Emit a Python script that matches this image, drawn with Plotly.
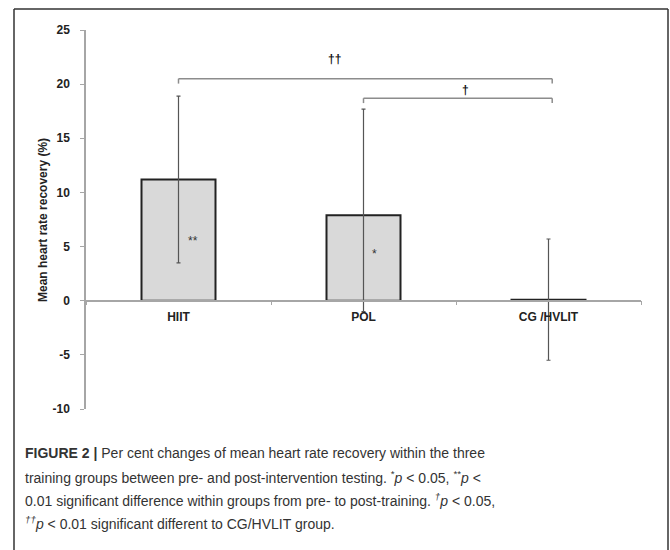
import plotly.graph_objects as go

# ---- data ----
groups = ["HIIT", "POL", "CG /HVLIT"]
mean_change = [11.2, 7.9, 0.1]
err_plus = [7.7, 9.8, 5.6]
err_minus = [7.7, 8.9, 5.6]
y_ticks = [-10, -5, 0, 5, 10, 15, 20, 25]
y_tick_text = ["-10", "-5", "0", "5", "10", "15", "20", "25"]

W, H = 670, 550
L, R, T, B = 86, 29, 30, 141
Y0, Y1 = -10, 25

def px_y(py):
    return (H - B - py) / (H - T - B)

def px_x(px):
    return (px - L) / (W - L - R)

AX = "#a6a6a6"
BOLD12 = dict(family="Liberation Sans, Arial, sans-serif", size=12, color="#222", weight="bold")

fig = go.Figure()
fig.add_trace(go.Bar(
    x=groups, y=mean_change, width=0.4,
    marker=dict(color="#d9d9d9", line=dict(color="#222", width=2)),
    error_y=dict(type="data", symmetric=False, array=err_plus, arrayminus=err_minus,
                 color="#555", thickness=1.2, width=2),
    showlegend=False, hoverinfo="skip",
))

# significance markers inside bars
fig.add_annotation(x=0.08, y=5.55, text="**", showarrow=False,
                   font=dict(family="Liberation Sans, Arial", size=12, color="#333"))
fig.add_annotation(x=1.06, y=4.3, text="*", showarrow=False,
                   font=dict(family="Liberation Sans, Arial", size=12, color="#333"))

# brackets
BR = "#8c8c8c"
def bracket(x0, x1, y, drop=0.45):
    fig.add_shape(type="line", x0=x0, x1=x1, y0=y, y1=y, line=dict(color=BR, width=1.5))
    fig.add_shape(type="line", x0=x0, x1=x0, y0=y, y1=y - drop, line=dict(color=BR, width=1.5))
    fig.add_shape(type="line", x0=x1, x1=x1, y0=y, y1=y - drop, line=dict(color=BR, width=1.5))

bracket(0.0, 2.02, 20.5)
bracket(1.0, 2.02, 18.7)
fig.add_annotation(x=0.845, y=22.3, text="††", showarrow=False,
                   font=dict(family="Liberation Sans, Arial", size=12, color="#111", weight="bold"))
fig.add_annotation(x=1.55, y=19.45, text="†", showarrow=False,
                   font=dict(family="Liberation Sans, Arial", size=12, color="#111", weight="bold"))

# y axis title
fig.add_annotation(xref="paper", yref="paper", x=px_x(43), y=px_y(220),
                   xanchor="center", yanchor="middle",
                   text="Mean heart rate recovery (%)", textangle=-90, showarrow=False,
                   font=dict(family="Liberation Sans, Arial", size=12, color="#222", weight="bold"))

# caption
CAP = dict(family="Liberation Sans, Arial", size=14, color="#333")
lines = [
    "<b>FIGURE 2 |</b> Per cent changes of mean heart rate recovery within the three",
    "training groups between pre- and post-intervention testing. <sup>*</sup><i>p</i> &lt; 0.05, <sup>**</sup><i>p</i> &lt;",
    "0.01 significant difference within groups from pre- to post-training. <sup><i>†</i></sup><i>p</i> &lt; 0.05,",
    "<sup><i>††</i></sup><i>p</i> &lt; 0.01 significant different to CG/HVLIT group.",
]
for ln, py in zip(lines, [453, 477, 500, 523]):
    fig.add_annotation(xref="paper", yref="paper", x=px_x(23), y=px_y(py),
                       xanchor="left", yanchor="middle", text=ln, showarrow=False,
                       align="left", font=CAP)

# outer frame
FR = "#333"
for x0, y0, x1, y1 in [(14, 9, 668, 9), (14, 9, 14, 560), (668, 9, 668, 560)]:
    fig.add_shape(type="line", xref="paper", yref="paper",
                  x0=px_x(x0), x1=px_x(x1), y0=px_y(y0), y1=px_y(y1),
                  line=dict(color=FR, width=1.5))

fig.update_layout(
    width=W, height=H,
    margin=dict(l=L, r=R, t=T, b=B),
    paper_bgcolor="white", plot_bgcolor="white",
    hovermode=False,
    xaxis=dict(type="category", range=[-0.5, 2.5], anchor="free",
               position=(0 - Y0) / (Y1 - Y0),
               showline=True, linecolor=AX, linewidth=1.5,
               ticks="outside", tickson="boundaries", ticklen=4, tickcolor=AX,
               tickfont=BOLD12, ticklabelstandoff=5, showgrid=False, zeroline=False),
    yaxis=dict(range=[Y0, Y1], tickvals=y_ticks, ticktext=y_tick_text,
               showline=True, linecolor=AX, linewidth=1.5,
               ticks="outside", ticklen=4, tickcolor=AX, showgrid=False, zeroline=False,
               tickfont=BOLD12, ticklabelstandoff=8),
)

fig.write_html("out.html", config={"displayModeBar": False},
               post_script="document.body.style.margin='0';")
